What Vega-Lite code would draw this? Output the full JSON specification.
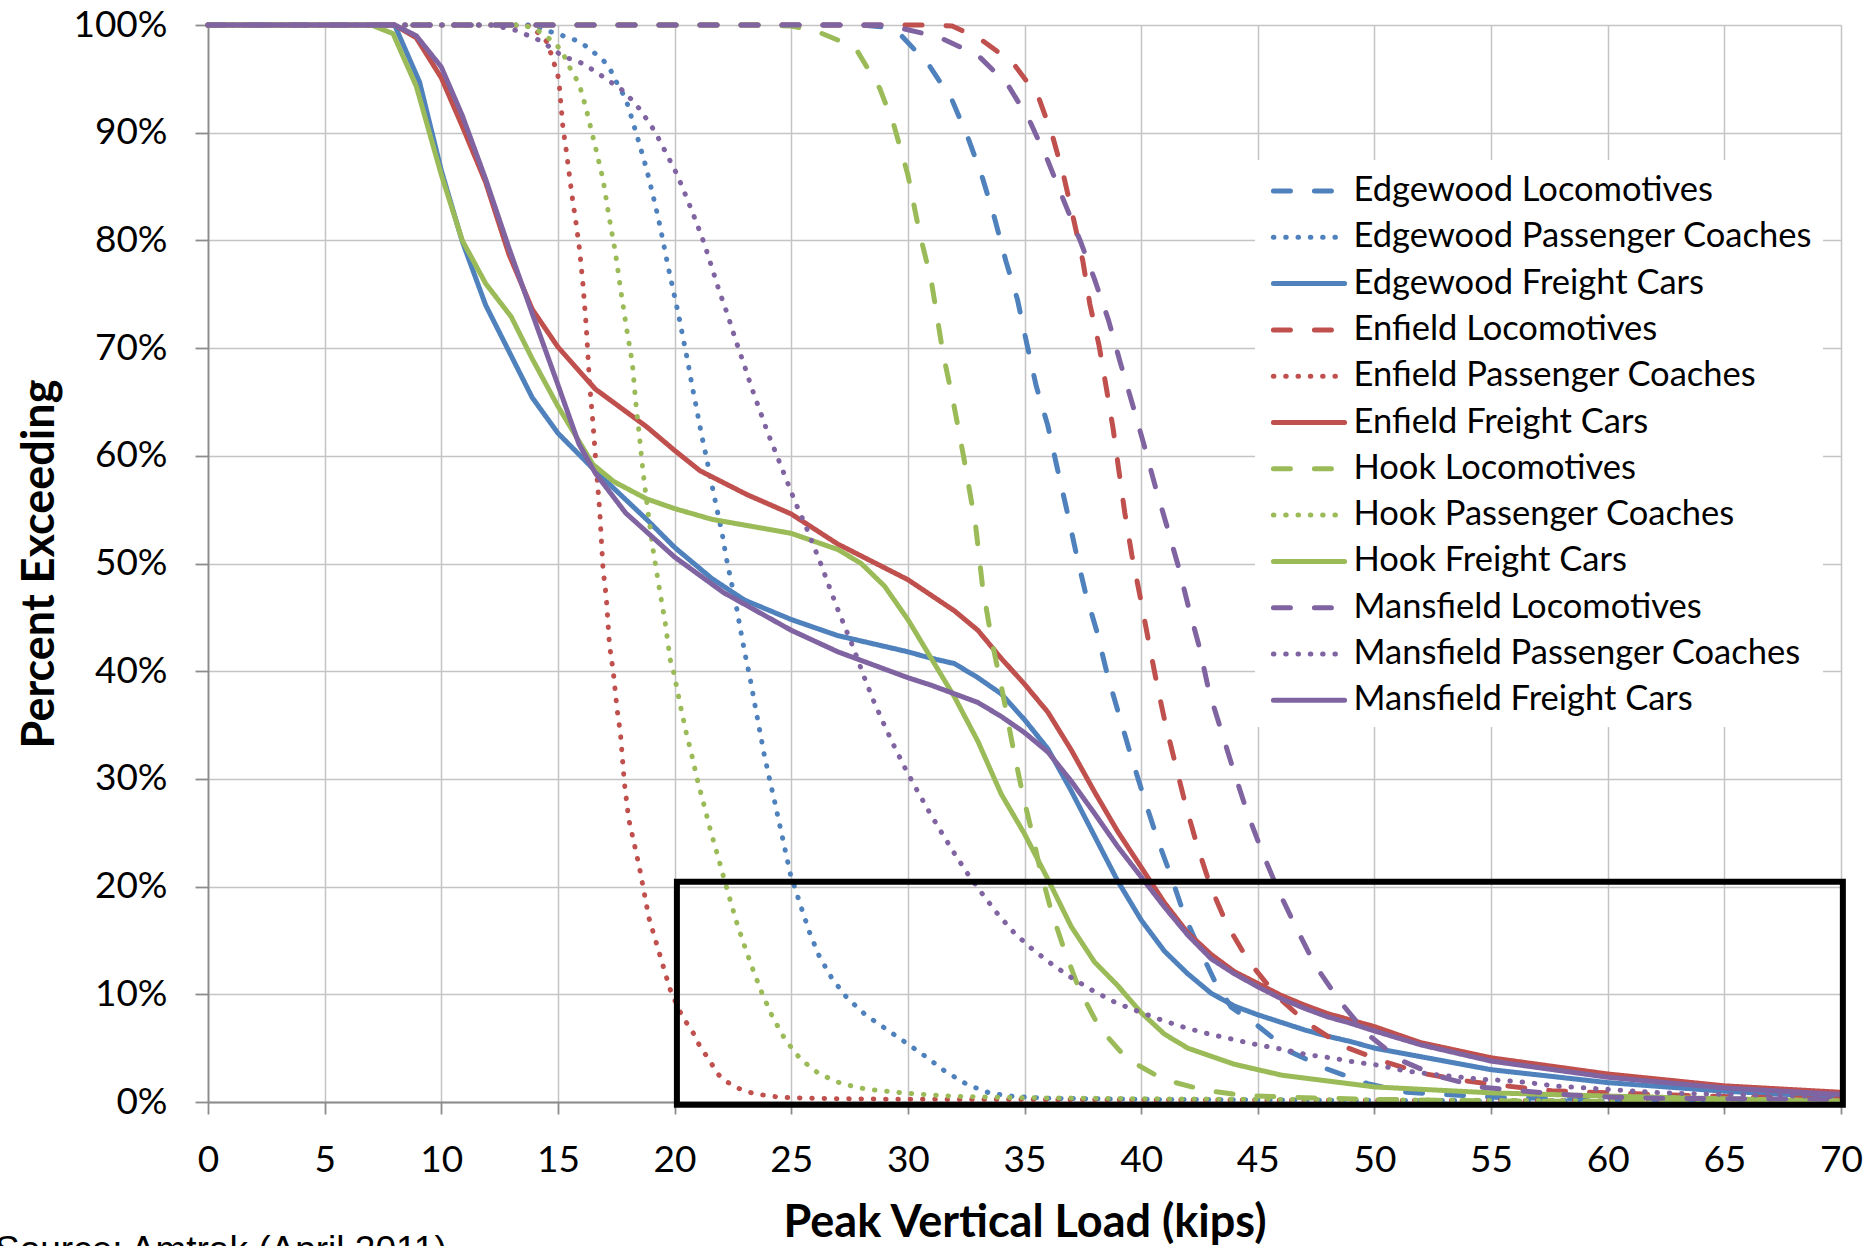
{
  "$schema": "https://vega.github.io/schema/vega-lite/v6.json",
  "width": 1633,
  "height": 1077,
  "autosize": {"type": "none"},
  "padding": {"left": 208, "top": 25, "right": 24, "bottom": 144},
  "background": "white",
  "config": {"view": {"stroke": null}, "font": "Lato", "legend": {"symbolStrokeWidth": 5}},
  "title": {"text": "Source: Amtrak (April 2011)", "orient": "bottom", "anchor": "start", "frame": "group", "font": "Liberation Sans", "fontSize": 37, "fontWeight": "normal", "color": "black", "baseline": "top", "offset": 0, "dx": -213, "dy": -12},
  "layer": [
    {
      "data": {"values": [
        {"s":"Edgewood Locomotives","k":0,"p":100},{"s":"Edgewood Locomotives","k":28,"p":100},{"s":"Edgewood Locomotives","k":29,"p":99.8},{"s":"Edgewood Locomotives","k":29.6,"p":99.3},{"s":"Edgewood Locomotives","k":30.9,"p":96.3},{"s":"Edgewood Locomotives","k":31.9,"p":93},{"s":"Edgewood Locomotives","k":32.6,"p":89.4},{"s":"Edgewood Locomotives","k":33.2,"p":85.8},{"s":"Edgewood Locomotives","k":33.7,"p":82.2},{"s":"Edgewood Locomotives","k":34.2,"p":78.1},{"s":"Edgewood Locomotives","k":34.7,"p":74.5},{"s":"Edgewood Locomotives","k":35.1,"p":70.4},{"s":"Edgewood Locomotives","k":35.5,"p":66.5},{"s":"Edgewood Locomotives","k":36,"p":62.8},{"s":"Edgewood Locomotives","k":36.4,"p":58.9},{"s":"Edgewood Locomotives","k":36.8,"p":55.1},{"s":"Edgewood Locomotives","k":37.2,"p":51.1},{"s":"Edgewood Locomotives","k":37.6,"p":47.4},{"s":"Edgewood Locomotives","k":38.1,"p":43.7},{"s":"Edgewood Locomotives","k":38.55,"p":39.7},{"s":"Edgewood Locomotives","k":39.07,"p":35.8},{"s":"Edgewood Locomotives","k":39.57,"p":32.1},{"s":"Edgewood Locomotives","k":40.1,"p":28.4},{"s":"Edgewood Locomotives","k":40.67,"p":24.6},{"s":"Edgewood Locomotives","k":41.29,"p":20.9},{"s":"Edgewood Locomotives","k":41.86,"p":17.3},{"s":"Edgewood Locomotives","k":42.5,"p":14.2},{"s":"Edgewood Locomotives","k":43.14,"p":11.3},{"s":"Edgewood Locomotives","k":43.86,"p":8.8},{"s":"Edgewood Locomotives","k":44.93,"p":7.2},{"s":"Edgewood Locomotives","k":46.36,"p":4.7},{"s":"Edgewood Locomotives","k":47.93,"p":3.1},{"s":"Edgewood Locomotives","k":49.71,"p":1.7},{"s":"Edgewood Locomotives","k":51.4,"p":0.9},{"s":"Edgewood Locomotives","k":53.4,"p":0.65},{"s":"Edgewood Locomotives","k":55.5,"p":0.4},{"s":"Edgewood Locomotives","k":60,"p":0.25},{"s":"Edgewood Locomotives","k":65,"p":0.15},{"s":"Edgewood Locomotives","k":70,"p":0.1},

        {"s":"Edgewood Passenger Coaches","k":0,"p":100},{"s":"Edgewood Passenger Coaches","k":14,"p":100},{"s":"Edgewood Passenger Coaches","k":14.36,"p":99.6},{"s":"Edgewood Passenger Coaches","k":15.36,"p":98.9},{"s":"Edgewood Passenger Coaches","k":15.87,"p":98.5},{"s":"Edgewood Passenger Coaches","k":16.3,"p":97.9},{"s":"Edgewood Passenger Coaches","k":16.73,"p":97.1},{"s":"Edgewood Passenger Coaches","k":17.1,"p":96.4},{"s":"Edgewood Passenger Coaches","k":17.36,"p":95.4},{"s":"Edgewood Passenger Coaches","k":17.6,"p":94.3},{"s":"Edgewood Passenger Coaches","k":17.9,"p":93.2},{"s":"Edgewood Passenger Coaches","k":18.2,"p":91.1},{"s":"Edgewood Passenger Coaches","k":18.5,"p":88.9},{"s":"Edgewood Passenger Coaches","k":18.79,"p":86.7},{"s":"Edgewood Passenger Coaches","k":19.04,"p":84.5},{"s":"Edgewood Passenger Coaches","k":19.29,"p":82.2},{"s":"Edgewood Passenger Coaches","k":19.5,"p":80},{"s":"Edgewood Passenger Coaches","k":19.71,"p":77.7},{"s":"Edgewood Passenger Coaches","k":19.93,"p":75.5},{"s":"Edgewood Passenger Coaches","k":20.16,"p":73.2},{"s":"Edgewood Passenger Coaches","k":20.36,"p":71},{"s":"Edgewood Passenger Coaches","k":20.57,"p":68.7},{"s":"Edgewood Passenger Coaches","k":20.76,"p":66.4},{"s":"Edgewood Passenger Coaches","k":20.96,"p":64.2},{"s":"Edgewood Passenger Coaches","k":21.16,"p":61.9},{"s":"Edgewood Passenger Coaches","k":21.39,"p":59.6},{"s":"Edgewood Passenger Coaches","k":21.6,"p":57.3},{"s":"Edgewood Passenger Coaches","k":21.81,"p":55.1},{"s":"Edgewood Passenger Coaches","k":22.03,"p":52.9},{"s":"Edgewood Passenger Coaches","k":22.21,"p":50.6},{"s":"Edgewood Passenger Coaches","k":22.43,"p":48.3},{"s":"Edgewood Passenger Coaches","k":22.64,"p":46.1},{"s":"Edgewood Passenger Coaches","k":22.83,"p":43.8},{"s":"Edgewood Passenger Coaches","k":23.03,"p":41.5},{"s":"Edgewood Passenger Coaches","k":23.25,"p":39.2},{"s":"Edgewood Passenger Coaches","k":23.45,"p":36.8},{"s":"Edgewood Passenger Coaches","k":23.64,"p":34.6},{"s":"Edgewood Passenger Coaches","k":23.84,"p":32.3},{"s":"Edgewood Passenger Coaches","k":24.06,"p":30.1},{"s":"Edgewood Passenger Coaches","k":24.29,"p":27.9},{"s":"Edgewood Passenger Coaches","k":24.52,"p":25.6},{"s":"Edgewood Passenger Coaches","k":24.74,"p":23.4},{"s":"Edgewood Passenger Coaches","k":24.97,"p":21.1},{"s":"Edgewood Passenger Coaches","k":25.14,"p":20},{"s":"Edgewood Passenger Coaches","k":25.47,"p":17.8},{"s":"Edgewood Passenger Coaches","k":25.81,"p":15.6},{"s":"Edgewood Passenger Coaches","k":26.21,"p":13.5},{"s":"Edgewood Passenger Coaches","k":26.74,"p":11.5},{"s":"Edgewood Passenger Coaches","k":27.38,"p":9.7},{"s":"Edgewood Passenger Coaches","k":28.18,"p":8.1},{"s":"Edgewood Passenger Coaches","k":29.05,"p":6.8},{"s":"Edgewood Passenger Coaches","k":29.92,"p":5.5},{"s":"Edgewood Passenger Coaches","k":30.78,"p":4.2},{"s":"Edgewood Passenger Coaches","k":31.63,"p":2.8},{"s":"Edgewood Passenger Coaches","k":32.56,"p":1.6},{"s":"Edgewood Passenger Coaches","k":33.55,"p":0.8},{"s":"Edgewood Passenger Coaches","k":34.6,"p":0.5},{"s":"Edgewood Passenger Coaches","k":36,"p":0.35},{"s":"Edgewood Passenger Coaches","k":40,"p":0.25},{"s":"Edgewood Passenger Coaches","k":50,"p":0.15},{"s":"Edgewood Passenger Coaches","k":60,"p":0.1},{"s":"Edgewood Passenger Coaches","k":70,"p":0.05},

        {"s":"Edgewood Freight Cars","k":0,"p":100},{"s":"Edgewood Freight Cars","k":8,"p":100},{"s":"Edgewood Freight Cars","k":9.07,"p":94.7},{"s":"Edgewood Freight Cars","k":10,"p":86.5},{"s":"Edgewood Freight Cars","k":10.9,"p":79.9},{"s":"Edgewood Freight Cars","k":11.9,"p":74},{"s":"Edgewood Freight Cars","k":12.9,"p":69.7},{"s":"Edgewood Freight Cars","k":13.9,"p":65.4},{"s":"Edgewood Freight Cars","k":15,"p":62.1},{"s":"Edgewood Freight Cars","k":16.6,"p":58.6},{"s":"Edgewood Freight Cars","k":18.8,"p":54.1},{"s":"Edgewood Freight Cars","k":20,"p":51.5},{"s":"Edgewood Freight Cars","k":21.6,"p":48.6},{"s":"Edgewood Freight Cars","k":23,"p":46.6},{"s":"Edgewood Freight Cars","k":25,"p":44.8},{"s":"Edgewood Freight Cars","k":27,"p":43.3},{"s":"Edgewood Freight Cars","k":29,"p":42.3},{"s":"Edgewood Freight Cars","k":30,"p":41.8},{"s":"Edgewood Freight Cars","k":31,"p":41.2},{"s":"Edgewood Freight Cars","k":32,"p":40.7},{"s":"Edgewood Freight Cars","k":33,"p":39.4},{"s":"Edgewood Freight Cars","k":34,"p":37.9},{"s":"Edgewood Freight Cars","k":35,"p":35.5},{"s":"Edgewood Freight Cars","k":36,"p":32.8},{"s":"Edgewood Freight Cars","k":37,"p":28.9},{"s":"Edgewood Freight Cars","k":38,"p":24.7},{"s":"Edgewood Freight Cars","k":39,"p":20.5},{"s":"Edgewood Freight Cars","k":40,"p":16.9},{"s":"Edgewood Freight Cars","k":41,"p":14},{"s":"Edgewood Freight Cars","k":42,"p":11.9},{"s":"Edgewood Freight Cars","k":43,"p":10.1},{"s":"Edgewood Freight Cars","k":44,"p":8.9},{"s":"Edgewood Freight Cars","k":45,"p":8.1},{"s":"Edgewood Freight Cars","k":46,"p":7.4},{"s":"Edgewood Freight Cars","k":47,"p":6.7},{"s":"Edgewood Freight Cars","k":48,"p":6.1},{"s":"Edgewood Freight Cars","k":49,"p":5.6},{"s":"Edgewood Freight Cars","k":50,"p":5},{"s":"Edgewood Freight Cars","k":52,"p":4.2},{"s":"Edgewood Freight Cars","k":55,"p":3},{"s":"Edgewood Freight Cars","k":60,"p":1.8},{"s":"Edgewood Freight Cars","k":65,"p":1},{"s":"Edgewood Freight Cars","k":70,"p":0.45},

        {"s":"Enfield Locomotives","k":0,"p":100},{"s":"Enfield Locomotives","k":31,"p":100},{"s":"Enfield Locomotives","k":31.9,"p":99.9},{"s":"Enfield Locomotives","k":33.1,"p":98.7},{"s":"Enfield Locomotives","k":34.5,"p":96.5},{"s":"Enfield Locomotives","k":35.6,"p":93.3},{"s":"Enfield Locomotives","k":36.2,"p":89.7},{"s":"Enfield Locomotives","k":36.7,"p":85.8},{"s":"Enfield Locomotives","k":37.1,"p":82},{"s":"Enfield Locomotives","k":37.5,"p":78.1},{"s":"Enfield Locomotives","k":37.8,"p":74.1},{"s":"Enfield Locomotives","k":38.2,"p":70.2},{"s":"Enfield Locomotives","k":38.5,"p":66.4},{"s":"Enfield Locomotives","k":38.8,"p":62.5},{"s":"Enfield Locomotives","k":39.04,"p":58.7},{"s":"Enfield Locomotives","k":39.3,"p":54.7},{"s":"Enfield Locomotives","k":39.6,"p":50.8},{"s":"Enfield Locomotives","k":39.96,"p":46.9},{"s":"Enfield Locomotives","k":40.3,"p":43},{"s":"Enfield Locomotives","k":40.64,"p":39.2},{"s":"Enfield Locomotives","k":41,"p":35.5},{"s":"Enfield Locomotives","k":41.43,"p":31.7},{"s":"Enfield Locomotives","k":41.89,"p":27.7},{"s":"Enfield Locomotives","k":42.39,"p":23.9},{"s":"Enfield Locomotives","k":42.96,"p":20.1},{"s":"Enfield Locomotives","k":43.67,"p":16.5},{"s":"Enfield Locomotives","k":44.6,"p":13.1},{"s":"Enfield Locomotives","k":45.79,"p":9.9},{"s":"Enfield Locomotives","k":47.07,"p":7.4},{"s":"Enfield Locomotives","k":48.64,"p":5.2},{"s":"Enfield Locomotives","k":50.36,"p":3.8},{"s":"Enfield Locomotives","k":52.07,"p":2.65},{"s":"Enfield Locomotives","k":53.93,"p":1.95},{"s":"Enfield Locomotives","k":55.6,"p":1.5},{"s":"Enfield Locomotives","k":57.6,"p":1.05},{"s":"Enfield Locomotives","k":60,"p":0.85},{"s":"Enfield Locomotives","k":65,"p":0.5},{"s":"Enfield Locomotives","k":70,"p":0.3},

        {"s":"Enfield Passenger Coaches","k":0,"p":100},{"s":"Enfield Passenger Coaches","k":13,"p":100},{"s":"Enfield Passenger Coaches","k":13.86,"p":99.9},{"s":"Enfield Passenger Coaches","k":14.14,"p":99.3},{"s":"Enfield Passenger Coaches","k":14.5,"p":98.5},{"s":"Enfield Passenger Coaches","k":14.71,"p":97.3},{"s":"Enfield Passenger Coaches","k":15,"p":95.3},{"s":"Enfield Passenger Coaches","k":15.07,"p":94.1},{"s":"Enfield Passenger Coaches","k":15.21,"p":90.6},{"s":"Enfield Passenger Coaches","k":15.36,"p":88.3},{"s":"Enfield Passenger Coaches","k":15.5,"p":85.9},{"s":"Enfield Passenger Coaches","k":15.64,"p":83.6},{"s":"Enfield Passenger Coaches","k":15.79,"p":81.4},{"s":"Enfield Passenger Coaches","k":15.93,"p":79.1},{"s":"Enfield Passenger Coaches","k":16.07,"p":76},{"s":"Enfield Passenger Coaches","k":16.21,"p":72.1},{"s":"Enfield Passenger Coaches","k":16.36,"p":66.6},{"s":"Enfield Passenger Coaches","k":16.5,"p":63.1},{"s":"Enfield Passenger Coaches","k":16.64,"p":59},{"s":"Enfield Passenger Coaches","k":16.79,"p":54.9},{"s":"Enfield Passenger Coaches","k":16.93,"p":49.6},{"s":"Enfield Passenger Coaches","k":17.07,"p":46.9},{"s":"Enfield Passenger Coaches","k":17.21,"p":42.4},{"s":"Enfield Passenger Coaches","k":17.37,"p":40},{"s":"Enfield Passenger Coaches","k":17.54,"p":36.4},{"s":"Enfield Passenger Coaches","k":17.68,"p":34.2},{"s":"Enfield Passenger Coaches","k":17.85,"p":29.6},{"s":"Enfield Passenger Coaches","k":18.04,"p":26.2},{"s":"Enfield Passenger Coaches","k":18.28,"p":23.9},{"s":"Enfield Passenger Coaches","k":18.5,"p":21.7},{"s":"Enfield Passenger Coaches","k":18.7,"p":19.4},{"s":"Enfield Passenger Coaches","k":18.9,"p":17.1},{"s":"Enfield Passenger Coaches","k":19.2,"p":14.9},{"s":"Enfield Passenger Coaches","k":19.5,"p":12.7},{"s":"Enfield Passenger Coaches","k":19.8,"p":10.5},{"s":"Enfield Passenger Coaches","k":20.2,"p":8.5},{"s":"Enfield Passenger Coaches","k":20.5,"p":7.4},{"s":"Enfield Passenger Coaches","k":20.8,"p":6.4},{"s":"Enfield Passenger Coaches","k":21.03,"p":5.4},{"s":"Enfield Passenger Coaches","k":21.3,"p":4.5},{"s":"Enfield Passenger Coaches","k":21.6,"p":3.5},{"s":"Enfield Passenger Coaches","k":21.9,"p":2.5},{"s":"Enfield Passenger Coaches","k":22.3,"p":1.8},{"s":"Enfield Passenger Coaches","k":22.7,"p":1.3},{"s":"Enfield Passenger Coaches","k":23.2,"p":0.9},{"s":"Enfield Passenger Coaches","k":23.8,"p":0.65},{"s":"Enfield Passenger Coaches","k":24.3,"p":0.5},{"s":"Enfield Passenger Coaches","k":24.9,"p":0.4},{"s":"Enfield Passenger Coaches","k":27,"p":0.3},{"s":"Enfield Passenger Coaches","k":30,"p":0.25},{"s":"Enfield Passenger Coaches","k":40,"p":0.2},{"s":"Enfield Passenger Coaches","k":50,"p":0.15},{"s":"Enfield Passenger Coaches","k":60,"p":0.1},{"s":"Enfield Passenger Coaches","k":70,"p":0.05},

        {"s":"Enfield Freight Cars","k":0,"p":100},{"s":"Enfield Freight Cars","k":8,"p":100},{"s":"Enfield Freight Cars","k":8.93,"p":98.8},{"s":"Enfield Freight Cars","k":10,"p":95.1},{"s":"Enfield Freight Cars","k":10.9,"p":90.6},{"s":"Enfield Freight Cars","k":11.9,"p":85.4},{"s":"Enfield Freight Cars","k":12.9,"p":78.7},{"s":"Enfield Freight Cars","k":13.9,"p":73.6},{"s":"Enfield Freight Cars","k":15,"p":70.1},{"s":"Enfield Freight Cars","k":16.6,"p":66.2},{"s":"Enfield Freight Cars","k":18.8,"p":62.7},{"s":"Enfield Freight Cars","k":20,"p":60.5},{"s":"Enfield Freight Cars","k":21.1,"p":58.6},{"s":"Enfield Freight Cars","k":23.1,"p":56.4},{"s":"Enfield Freight Cars","k":25,"p":54.6},{"s":"Enfield Freight Cars","k":27,"p":51.8},{"s":"Enfield Freight Cars","k":30,"p":48.5},{"s":"Enfield Freight Cars","k":32,"p":45.6},{"s":"Enfield Freight Cars","k":33,"p":43.8},{"s":"Enfield Freight Cars","k":34,"p":41.2},{"s":"Enfield Freight Cars","k":35,"p":38.8},{"s":"Enfield Freight Cars","k":36,"p":36.2},{"s":"Enfield Freight Cars","k":37,"p":32.7},{"s":"Enfield Freight Cars","k":38,"p":28.8},{"s":"Enfield Freight Cars","k":39,"p":25.1},{"s":"Enfield Freight Cars","k":40,"p":21.8},{"s":"Enfield Freight Cars","k":41,"p":18.5},{"s":"Enfield Freight Cars","k":42,"p":15.7},{"s":"Enfield Freight Cars","k":43,"p":13.7},{"s":"Enfield Freight Cars","k":44,"p":12.1},{"s":"Enfield Freight Cars","k":45,"p":11},{"s":"Enfield Freight Cars","k":46,"p":9.9},{"s":"Enfield Freight Cars","k":47,"p":9},{"s":"Enfield Freight Cars","k":48,"p":8.2},{"s":"Enfield Freight Cars","k":49,"p":7.6},{"s":"Enfield Freight Cars","k":50,"p":7},{"s":"Enfield Freight Cars","k":52,"p":5.5},{"s":"Enfield Freight Cars","k":55,"p":4.1},{"s":"Enfield Freight Cars","k":60,"p":2.6},{"s":"Enfield Freight Cars","k":65,"p":1.5},{"s":"Enfield Freight Cars","k":70,"p":0.9},

        {"s":"Hook Locomotives","k":0,"p":100},{"s":"Hook Locomotives","k":24,"p":100},{"s":"Hook Locomotives","k":25,"p":99.9},{"s":"Hook Locomotives","k":26,"p":99.5},{"s":"Hook Locomotives","k":27,"p":98.6},{"s":"Hook Locomotives","k":27.8,"p":97.7},{"s":"Hook Locomotives","k":28.8,"p":94.1},{"s":"Hook Locomotives","k":29.4,"p":90.7},{"s":"Hook Locomotives","k":30,"p":86.1},{"s":"Hook Locomotives","k":30.5,"p":80.7},{"s":"Hook Locomotives","k":31,"p":76.3},{"s":"Hook Locomotives","k":31.5,"p":69.6},{"s":"Hook Locomotives","k":32,"p":64.4},{"s":"Hook Locomotives","k":32.4,"p":59.8},{"s":"Hook Locomotives","k":32.9,"p":53.6},{"s":"Hook Locomotives","k":33.2,"p":47.9},{"s":"Hook Locomotives","k":33.6,"p":42.8},{"s":"Hook Locomotives","k":34,"p":38.7},{"s":"Hook Locomotives","k":34.5,"p":33},{"s":"Hook Locomotives","k":34.9,"p":28.8},{"s":"Hook Locomotives","k":35.3,"p":25.2},{"s":"Hook Locomotives","k":35.67,"p":21.6},{"s":"Hook Locomotives","k":36.14,"p":17.8},{"s":"Hook Locomotives","k":36.71,"p":14.1},{"s":"Hook Locomotives","k":37.36,"p":10.4},{"s":"Hook Locomotives","k":38.21,"p":6.9},{"s":"Hook Locomotives","k":39.39,"p":4},{"s":"Hook Locomotives","k":40.96,"p":2.1},{"s":"Hook Locomotives","k":42.71,"p":1.1},{"s":"Hook Locomotives","k":44.4,"p":0.6},{"s":"Hook Locomotives","k":47,"p":0.4},{"s":"Hook Locomotives","k":50,"p":0.25},{"s":"Hook Locomotives","k":55,"p":0.1},{"s":"Hook Locomotives","k":60,"p":0.05},{"s":"Hook Locomotives","k":70,"p":0.02},

        {"s":"Hook Passenger Coaches","k":0,"p":100},{"s":"Hook Passenger Coaches","k":13.5,"p":100},{"s":"Hook Passenger Coaches","k":14.07,"p":99.6},{"s":"Hook Passenger Coaches","k":14.71,"p":98.6},{"s":"Hook Passenger Coaches","k":15.14,"p":97.7},{"s":"Hook Passenger Coaches","k":15.61,"p":95.6},{"s":"Hook Passenger Coaches","k":15.9,"p":94.6},{"s":"Hook Passenger Coaches","k":16.19,"p":92.4},{"s":"Hook Passenger Coaches","k":16.57,"p":89},{"s":"Hook Passenger Coaches","k":16.93,"p":85.7},{"s":"Hook Passenger Coaches","k":17.19,"p":82.2},{"s":"Hook Passenger Coaches","k":17.47,"p":78.8},{"s":"Hook Passenger Coaches","k":17.69,"p":75.4},{"s":"Hook Passenger Coaches","k":17.93,"p":72},{"s":"Hook Passenger Coaches","k":18.19,"p":68.6},{"s":"Hook Passenger Coaches","k":18.33,"p":65.1},{"s":"Hook Passenger Coaches","k":18.5,"p":61.7},{"s":"Hook Passenger Coaches","k":18.66,"p":58.3},{"s":"Hook Passenger Coaches","k":18.79,"p":56},{"s":"Hook Passenger Coaches","k":19.07,"p":51.4},{"s":"Hook Passenger Coaches","k":19.33,"p":47.9},{"s":"Hook Passenger Coaches","k":19.6,"p":44.5},{"s":"Hook Passenger Coaches","k":19.81,"p":41.1},{"s":"Hook Passenger Coaches","k":19.96,"p":39.9},{"s":"Hook Passenger Coaches","k":20.28,"p":36.5},{"s":"Hook Passenger Coaches","k":20.5,"p":34.3},{"s":"Hook Passenger Coaches","k":20.75,"p":32.1},{"s":"Hook Passenger Coaches","k":20.99,"p":29.8},{"s":"Hook Passenger Coaches","k":21.26,"p":27.6},{"s":"Hook Passenger Coaches","k":21.53,"p":25.3},{"s":"Hook Passenger Coaches","k":21.82,"p":23.1},{"s":"Hook Passenger Coaches","k":22.1,"p":20.9},{"s":"Hook Passenger Coaches","k":22.39,"p":18.7},{"s":"Hook Passenger Coaches","k":22.7,"p":16.4},{"s":"Hook Passenger Coaches","k":23.03,"p":14.3},{"s":"Hook Passenger Coaches","k":23.39,"p":12.1},{"s":"Hook Passenger Coaches","k":23.77,"p":10},{"s":"Hook Passenger Coaches","k":24.2,"p":7.9},{"s":"Hook Passenger Coaches","k":24.74,"p":5.8},{"s":"Hook Passenger Coaches","k":25.39,"p":4},{"s":"Hook Passenger Coaches","k":26.2,"p":2.6},{"s":"Hook Passenger Coaches","k":27.17,"p":1.7},{"s":"Hook Passenger Coaches","k":28.2,"p":1.2},{"s":"Hook Passenger Coaches","k":29.3,"p":0.95},{"s":"Hook Passenger Coaches","k":30.35,"p":0.75},{"s":"Hook Passenger Coaches","k":31.4,"p":0.6},{"s":"Hook Passenger Coaches","k":32.4,"p":0.5},{"s":"Hook Passenger Coaches","k":35,"p":0.4},{"s":"Hook Passenger Coaches","k":40,"p":0.3},{"s":"Hook Passenger Coaches","k":45,"p":0.25},{"s":"Hook Passenger Coaches","k":50,"p":0.2},{"s":"Hook Passenger Coaches","k":60,"p":0.1},{"s":"Hook Passenger Coaches","k":70,"p":0.05},

        {"s":"Hook Freight Cars","k":0,"p":100},{"s":"Hook Freight Cars","k":7,"p":100},{"s":"Hook Freight Cars","k":7.93,"p":99.2},{"s":"Hook Freight Cars","k":8.93,"p":94.3},{"s":"Hook Freight Cars","k":10,"p":86.1},{"s":"Hook Freight Cars","k":10.9,"p":80},{"s":"Hook Freight Cars","k":11.9,"p":76},{"s":"Hook Freight Cars","k":13,"p":72.9},{"s":"Hook Freight Cars","k":13.9,"p":69},{"s":"Hook Freight Cars","k":15,"p":64.6},{"s":"Hook Freight Cars","k":16.5,"p":59.2},{"s":"Hook Freight Cars","k":17.4,"p":57.6},{"s":"Hook Freight Cars","k":18.8,"p":56},{"s":"Hook Freight Cars","k":20,"p":55.1},{"s":"Hook Freight Cars","k":21.6,"p":54.1},{"s":"Hook Freight Cars","k":25,"p":52.8},{"s":"Hook Freight Cars","k":27,"p":51.3},{"s":"Hook Freight Cars","k":28,"p":50},{"s":"Hook Freight Cars","k":29,"p":47.9},{"s":"Hook Freight Cars","k":30,"p":44.8},{"s":"Hook Freight Cars","k":31,"p":41.2},{"s":"Hook Freight Cars","k":32,"p":37.6},{"s":"Hook Freight Cars","k":33,"p":33.5},{"s":"Hook Freight Cars","k":34,"p":28.6},{"s":"Hook Freight Cars","k":35,"p":24.9},{"s":"Hook Freight Cars","k":36,"p":20.7},{"s":"Hook Freight Cars","k":37,"p":16.3},{"s":"Hook Freight Cars","k":38,"p":13},{"s":"Hook Freight Cars","k":39,"p":10.8},{"s":"Hook Freight Cars","k":40,"p":8.3},{"s":"Hook Freight Cars","k":41,"p":6.3},{"s":"Hook Freight Cars","k":42,"p":5},{"s":"Hook Freight Cars","k":44,"p":3.5},{"s":"Hook Freight Cars","k":46,"p":2.5},{"s":"Hook Freight Cars","k":50,"p":1.4},{"s":"Hook Freight Cars","k":55,"p":0.85},{"s":"Hook Freight Cars","k":60,"p":0.55},{"s":"Hook Freight Cars","k":65,"p":0.3},{"s":"Hook Freight Cars","k":70,"p":0.1},

        {"s":"Mansfield Locomotives","k":0,"p":100},{"s":"Mansfield Locomotives","k":29,"p":100},{"s":"Mansfield Locomotives","k":29.9,"p":99.6},{"s":"Mansfield Locomotives","k":31.3,"p":98.9},{"s":"Mansfield Locomotives","k":33,"p":97.2},{"s":"Mansfield Locomotives","k":34.3,"p":94.4},{"s":"Mansfield Locomotives","k":35.2,"p":91.2},{"s":"Mansfield Locomotives","k":36,"p":87.4},{"s":"Mansfield Locomotives","k":36.7,"p":83.6},{"s":"Mansfield Locomotives","k":37.4,"p":79.9},{"s":"Mansfield Locomotives","k":38,"p":76.4},{"s":"Mansfield Locomotives","k":38.6,"p":72.6},{"s":"Mansfield Locomotives","k":39.1,"p":68.7},{"s":"Mansfield Locomotives","k":39.6,"p":65},{"s":"Mansfield Locomotives","k":40.1,"p":61.2},{"s":"Mansfield Locomotives","k":40.6,"p":57.2},{"s":"Mansfield Locomotives","k":41.1,"p":53.5},{"s":"Mansfield Locomotives","k":41.6,"p":49.7},{"s":"Mansfield Locomotives","k":42.04,"p":45.9},{"s":"Mansfield Locomotives","k":42.5,"p":42.2},{"s":"Mansfield Locomotives","k":42.9,"p":38.2},{"s":"Mansfield Locomotives","k":43.43,"p":34.5},{"s":"Mansfield Locomotives","k":43.96,"p":30.8},{"s":"Mansfield Locomotives","k":44.53,"p":27},{"s":"Mansfield Locomotives","k":45.17,"p":23.3},{"s":"Mansfield Locomotives","k":45.89,"p":19.6},{"s":"Mansfield Locomotives","k":46.64,"p":16.2},{"s":"Mansfield Locomotives","k":47.46,"p":12.7},{"s":"Mansfield Locomotives","k":48.5,"p":9.4},{"s":"Mansfield Locomotives","k":49.64,"p":6.4},{"s":"Mansfield Locomotives","k":51.1,"p":3.9},{"s":"Mansfield Locomotives","k":52.7,"p":2.4},{"s":"Mansfield Locomotives","k":54.5,"p":1.4},{"s":"Mansfield Locomotives","k":56.5,"p":1},{"s":"Mansfield Locomotives","k":58.4,"p":0.65},{"s":"Mansfield Locomotives","k":60.3,"p":0.45},{"s":"Mansfield Locomotives","k":62.2,"p":0.35},{"s":"Mansfield Locomotives","k":70,"p":0.25},

        {"s":"Mansfield Passenger Coaches","k":0,"p":100},{"s":"Mansfield Passenger Coaches","k":12.2,"p":100},{"s":"Mansfield Passenger Coaches","k":13.21,"p":99.5},{"s":"Mansfield Passenger Coaches","k":14.29,"p":98.5},{"s":"Mansfield Passenger Coaches","k":15.21,"p":97.1},{"s":"Mansfield Passenger Coaches","k":16.1,"p":96.4},{"s":"Mansfield Passenger Coaches","k":17,"p":95.1},{"s":"Mansfield Passenger Coaches","k":17.86,"p":93.8},{"s":"Mansfield Passenger Coaches","k":18.54,"p":92.1},{"s":"Mansfield Passenger Coaches","k":19.16,"p":90.1},{"s":"Mansfield Passenger Coaches","k":19.64,"p":88.1},{"s":"Mansfield Passenger Coaches","k":20.11,"p":86.1},{"s":"Mansfield Passenger Coaches","k":20.53,"p":83.9},{"s":"Mansfield Passenger Coaches","k":20.93,"p":81.7},{"s":"Mansfield Passenger Coaches","k":21.29,"p":79.6},{"s":"Mansfield Passenger Coaches","k":21.61,"p":77.4},{"s":"Mansfield Passenger Coaches","k":21.93,"p":75.2},{"s":"Mansfield Passenger Coaches","k":22.29,"p":73},{"s":"Mansfield Passenger Coaches","k":22.61,"p":70.8},{"s":"Mansfield Passenger Coaches","k":22.96,"p":68.6},{"s":"Mansfield Passenger Coaches","k":23.29,"p":66.4},{"s":"Mansfield Passenger Coaches","k":23.64,"p":64.3},{"s":"Mansfield Passenger Coaches","k":24,"p":62.1},{"s":"Mansfield Passenger Coaches","k":24.39,"p":60},{"s":"Mansfield Passenger Coaches","k":24.79,"p":57.8},{"s":"Mansfield Passenger Coaches","k":25.19,"p":55.6},{"s":"Mansfield Passenger Coaches","k":25.6,"p":53.6},{"s":"Mansfield Passenger Coaches","k":26.21,"p":50.3},{"s":"Mansfield Passenger Coaches","k":26.93,"p":46.1},{"s":"Mansfield Passenger Coaches","k":27.64,"p":42.3},{"s":"Mansfield Passenger Coaches","k":28.12,"p":39.5},{"s":"Mansfield Passenger Coaches","k":28.52,"p":37.3},{"s":"Mansfield Passenger Coaches","k":28.95,"p":35.2},{"s":"Mansfield Passenger Coaches","k":29.4,"p":33.1},{"s":"Mansfield Passenger Coaches","k":29.88,"p":31},{"s":"Mansfield Passenger Coaches","k":30.38,"p":29},{"s":"Mansfield Passenger Coaches","k":30.9,"p":27},{"s":"Mansfield Passenger Coaches","k":31.45,"p":25},{"s":"Mansfield Passenger Coaches","k":31.99,"p":23.1},{"s":"Mansfield Passenger Coaches","k":32.59,"p":21.1},{"s":"Mansfield Passenger Coaches","k":33.2,"p":19.3},{"s":"Mansfield Passenger Coaches","k":33.87,"p":17.4},{"s":"Mansfield Passenger Coaches","k":34.56,"p":15.7},{"s":"Mansfield Passenger Coaches","k":35.33,"p":14.2},{"s":"Mansfield Passenger Coaches","k":36.17,"p":12.8},{"s":"Mansfield Passenger Coaches","k":37.04,"p":11.5},{"s":"Mansfield Passenger Coaches","k":37.96,"p":10.3},{"s":"Mansfield Passenger Coaches","k":38.93,"p":9.2},{"s":"Mansfield Passenger Coaches","k":39.89,"p":8.4},{"s":"Mansfield Passenger Coaches","k":40.89,"p":7.6},{"s":"Mansfield Passenger Coaches","k":41.89,"p":6.9},{"s":"Mansfield Passenger Coaches","k":42.93,"p":6.3},{"s":"Mansfield Passenger Coaches","k":43.97,"p":5.8},{"s":"Mansfield Passenger Coaches","k":45,"p":5.3},{"s":"Mansfield Passenger Coaches","k":46.04,"p":4.9},{"s":"Mansfield Passenger Coaches","k":47.1,"p":4.4},{"s":"Mansfield Passenger Coaches","k":48.14,"p":4.1},{"s":"Mansfield Passenger Coaches","k":49.19,"p":3.7},{"s":"Mansfield Passenger Coaches","k":50.21,"p":3.4},{"s":"Mansfield Passenger Coaches","k":51.29,"p":2.9},{"s":"Mansfield Passenger Coaches","k":52.39,"p":2.6},{"s":"Mansfield Passenger Coaches","k":53.5,"p":2.35},{"s":"Mansfield Passenger Coaches","k":54.6,"p":2.1},{"s":"Mansfield Passenger Coaches","k":55.6,"p":2},{"s":"Mansfield Passenger Coaches","k":56.6,"p":1.8},{"s":"Mansfield Passenger Coaches","k":57.7,"p":1.5},{"s":"Mansfield Passenger Coaches","k":58.7,"p":1.35},{"s":"Mansfield Passenger Coaches","k":59.8,"p":1.2},{"s":"Mansfield Passenger Coaches","k":60.9,"p":1.05},{"s":"Mansfield Passenger Coaches","k":61.9,"p":0.9},{"s":"Mansfield Passenger Coaches","k":63,"p":0.8},{"s":"Mansfield Passenger Coaches","k":64.1,"p":0.75},{"s":"Mansfield Passenger Coaches","k":65.1,"p":0.7},{"s":"Mansfield Passenger Coaches","k":66.1,"p":0.65},{"s":"Mansfield Passenger Coaches","k":67.1,"p":0.6},{"s":"Mansfield Passenger Coaches","k":68.2,"p":0.55},{"s":"Mansfield Passenger Coaches","k":70,"p":0.45},

        {"s":"Mansfield Freight Cars","k":0,"p":100},{"s":"Mansfield Freight Cars","k":8,"p":100},{"s":"Mansfield Freight Cars","k":8.93,"p":99},{"s":"Mansfield Freight Cars","k":10,"p":96.1},{"s":"Mansfield Freight Cars","k":10.9,"p":91.6},{"s":"Mansfield Freight Cars","k":11.9,"p":85.7},{"s":"Mansfield Freight Cars","k":12.9,"p":79.3},{"s":"Mansfield Freight Cars","k":13.9,"p":73.2},{"s":"Mansfield Freight Cars","k":15,"p":66.6},{"s":"Mansfield Freight Cars","k":15.9,"p":61.1},{"s":"Mansfield Freight Cars","k":16.6,"p":58.4},{"s":"Mansfield Freight Cars","k":17.9,"p":54.7},{"s":"Mansfield Freight Cars","k":20,"p":50.6},{"s":"Mansfield Freight Cars","k":22.1,"p":47.3},{"s":"Mansfield Freight Cars","k":25,"p":43.8},{"s":"Mansfield Freight Cars","k":27,"p":41.8},{"s":"Mansfield Freight Cars","k":29,"p":40.2},{"s":"Mansfield Freight Cars","k":30,"p":39.4},{"s":"Mansfield Freight Cars","k":31,"p":38.7},{"s":"Mansfield Freight Cars","k":32,"p":37.9},{"s":"Mansfield Freight Cars","k":33,"p":37.1},{"s":"Mansfield Freight Cars","k":34,"p":35.8},{"s":"Mansfield Freight Cars","k":35,"p":34.3},{"s":"Mansfield Freight Cars","k":36,"p":32.5},{"s":"Mansfield Freight Cars","k":37,"p":29.8},{"s":"Mansfield Freight Cars","k":38,"p":26.8},{"s":"Mansfield Freight Cars","k":39,"p":23.7},{"s":"Mansfield Freight Cars","k":40,"p":20.9},{"s":"Mansfield Freight Cars","k":41,"p":18.1},{"s":"Mansfield Freight Cars","k":42,"p":15.5},{"s":"Mansfield Freight Cars","k":43,"p":13.3},{"s":"Mansfield Freight Cars","k":44,"p":11.9},{"s":"Mansfield Freight Cars","k":45,"p":10.7},{"s":"Mansfield Freight Cars","k":46,"p":9.6},{"s":"Mansfield Freight Cars","k":47,"p":8.7},{"s":"Mansfield Freight Cars","k":48,"p":7.9},{"s":"Mansfield Freight Cars","k":49,"p":7.3},{"s":"Mansfield Freight Cars","k":50,"p":6.6},{"s":"Mansfield Freight Cars","k":52,"p":5.3},{"s":"Mansfield Freight Cars","k":55,"p":3.8},{"s":"Mansfield Freight Cars","k":60,"p":2.3},{"s":"Mansfield Freight Cars","k":65,"p":1.3},{"s":"Mansfield Freight Cars","k":70,"p":0.7}
      ]},
      "mark": {"type": "line", "strokeCap": "round", "strokeJoin": "round"},
      "encoding": {
        "x": {"field": "k", "type": "quantitative", "title": "Peak Vertical Load (kips)",
          "scale": {"domain": [0, 70], "nice": false, "zero": false},
          "axis": {"values": [0,5,10,15,20,25,30,35,40,45,50,55,60,65,70], "grid": true, "gridColor": "#C4C4C4", "gridWidth": 1.5,
            "domainColor": "#8C8C8C", "domainWidth": 1.8, "tickColor": "#8C8C8C", "tickWidth": 1.8, "tickSize": 12,
            "labelFont": "Lato", "labelFontSize": 37, "labelColor": "black", "labelBaseline": "alphabetic", "labelPadding": 57,
            "labelFlush": false, "labelOverlap": false, "labelBound": false,
            "titleFont": "Lato", "titleFontSize": 45, "titleFontWeight": "bold", "titleColor": "black",
            "titleX": 816.5, "titleY": 134, "titleBaseline": "alphabetic", "titleAlign": "center"}},
        "y": {"field": "p", "type": "quantitative", "title": "Percent Exceeding",
          "scale": {"domain": [0, 100], "nice": false, "zero": false},
          "axis": {"values": [0,10,20,30,40,50,60,70,80,90,100], "grid": true, "gridColor": "#C4C4C4", "gridWidth": 1.5,
            "domainColor": "#8C8C8C", "domainWidth": 1.8, "tickColor": "#8C8C8C", "tickWidth": 1.8, "tickSize": 13,
            "labelExpr": "datum.value + '%'", "labelFont": "Lato", "labelFontSize": 37, "labelColor": "black", "labelPadding": 28,
            "labelFlush": false, "labelOverlap": false, "labelBound": false,
            "titleFont": "Lato", "titleFontSize": 45, "titleFontWeight": "bold", "titleColor": "black",
            "titleX": -155, "titleY": 538.5, "titleAngle": -90, "titleBaseline": "alphabetic", "titleAlign": "center"}},
        "color": {"field": "s", "type": "nominal",
          "scale": {"domain": ["Edgewood Locomotives","Edgewood Passenger Coaches","Edgewood Freight Cars","Enfield Locomotives","Enfield Passenger Coaches","Enfield Freight Cars","Hook Locomotives","Hook Passenger Coaches","Hook Freight Cars","Mansfield Locomotives","Mansfield Passenger Coaches","Mansfield Freight Cars"],
            "range": ["#4F81BD","#4F81BD","#4F81BD","#C0504D","#C0504D","#C0504D","#9BBB59","#9BBB59","#9BBB59","#8064A2","#8064A2","#8064A2"]},
          "legend": {"orient": "none", "legendX": 1047, "legendY": 135, "title": null, "fillColor": "white", "padding": 10,
            "symbolType": "M-1.95,0H1.95", "symbolSize": 1332.25, "symbolStrokeWidth": 5, "symbolOffset": 23,
            "labelOffset": 23.5, "labelFont": "Lato", "labelFontSize": 34.5, "labelColor": "black", "labelLimit": 800, "rowPadding": 8.3,
            "encode": {"symbols": {"update": {"strokeCap": {"value": "round"}}}}}},
        "strokeDash": {"field": "s", "type": "nominal",
          "scale": {"domain": ["Edgewood Locomotives","Edgewood Passenger Coaches","Edgewood Freight Cars","Enfield Locomotives","Enfield Passenger Coaches","Enfield Freight Cars","Hook Locomotives","Hook Passenger Coaches","Hook Freight Cars","Mansfield Locomotives","Mansfield Passenger Coaches","Mansfield Freight Cars"],
            "range": [[17,24],[0.5,11.8],[1,0],[17,24],[0.5,11.8],[1,0],[17,24],[0.5,11.8],[1,0],[17,24],[0.5,11.8],[1,0]]},
          "legend": {"orient": "none", "legendX": 1047, "legendY": 135, "title": null, "fillColor": "white", "padding": 10,
            "symbolType": "M-1.95,0H1.95", "symbolSize": 1332.25, "symbolStrokeWidth": 5, "symbolOffset": 23,
            "labelOffset": 23.5, "labelFont": "Lato", "labelFontSize": 34.5, "labelColor": "black", "labelLimit": 800, "rowPadding": 8.3,
            "encode": {"symbols": {"update": {"strokeCap": {"value": "round"}}}}}},
        "strokeWidth": {"field": "s", "type": "ordinal",
          "scale": {"domain": ["Edgewood Locomotives","Edgewood Passenger Coaches","Edgewood Freight Cars","Enfield Locomotives","Enfield Passenger Coaches","Enfield Freight Cars","Hook Locomotives","Hook Passenger Coaches","Hook Freight Cars","Mansfield Locomotives","Mansfield Passenger Coaches","Mansfield Freight Cars"],
            "range": [5,5,5,5,5,5,5,5,5,5,5,5]},
          "legend": {"orient": "none", "legendX": 1047, "legendY": 135, "title": null, "fillColor": "white", "padding": 10,
            "symbolType": "M-1.95,0H1.95", "symbolSize": 1332.25, "symbolStrokeWidth": 5, "symbolOffset": 23,
            "labelOffset": 23.5, "labelFont": "Lato", "labelFontSize": 34.5, "labelColor": "black", "labelLimit": 800, "rowPadding": 8.3,
            "encode": {"symbols": {"update": {"strokeCap": {"value": "round"}}}}}}
      }
    },
    {
      "data": {"values": [{"k": 20.1, "k2": 70.08, "p": 20.45, "p2": -0.25}]},
      "mark": {"type": "rect", "fill": null, "stroke": "black", "strokeWidth": 6},
      "encoding": {
        "x": {"field": "k", "type": "quantitative", "title": "Peak Vertical Load (kips)", "scale": {"domain": [0, 70], "nice": false, "zero": false}},
        "x2": {"field": "k2"},
        "y": {"field": "p", "type": "quantitative", "title": "Percent Exceeding", "scale": {"domain": [0, 100], "nice": false, "zero": false}},
        "y2": {"field": "p2"}
      }
    }
  ]
}
